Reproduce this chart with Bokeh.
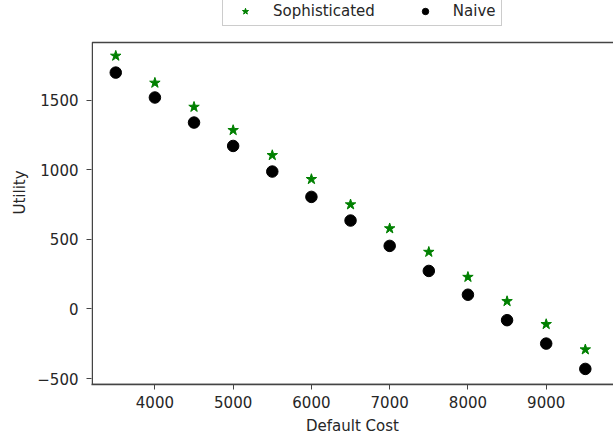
from bokeh.plotting import figure
from bokeh.models import Range1d, FixedTicker, Legend, LegendItem, BoxAnnotation
from bokeh.embed import file_html
from bokeh.resources import INLINE

# Default cost levels and the resulting utility for each agent type
default_cost = [3500, 4000, 4500, 5000, 5500, 6000, 6500, 7000, 7500, 8000, 8500, 9000, 9500]
sophisticated = [1818, 1624, 1451, 1284, 1104, 932, 750, 578, 409, 229, 55, -110, -292]
naive = [1698, 1519, 1339, 1171, 987, 805, 635, 453, 273, 102, -81, -249, -431]

x_ticks = [4000, 5000, 6000, 7000, 8000, 9000]
y_ticks = [-500, 0, 500, 1000, 1500]

FONT = "DejaVu Sans"
FS = "15px"
AXIS_COLOR = "#444444"

# Axes box limits; the frame reaches higher so the legend sits above the box
X_LO, X_HI = 3190, 9860
Y_LO, Y_HI = -543, 1914
Y_FRAME_TOP = 2216

p = figure(width=613, height=441, output_backend="svg", toolbar_location=None,
           x_range=Range1d(X_LO, X_HI), y_range=Range1d(Y_LO, Y_FRAME_TOP),
           min_border_left=91, min_border_right=0, min_border_top=0,
           min_border_bottom=57)
p.outline_line_color = None
p.background_fill_color = "white"
p.border_fill_color = "white"
p.xgrid.visible = False
p.ygrid.visible = False

# Spines: left, top and bottom, right side open
p.add_layout(BoxAnnotation(left=X_LO + 10, right=X_HI + 1000, bottom=Y_LO, top=Y_HI,
                           fill_alpha=0, line_color=AXIS_COLOR, line_alpha=1,
                           line_width=1.5))

r_soph = p.scatter(default_cost, sophisticated, marker="star", size=11,
                   color="green")
r_naive = p.scatter(default_cost, naive, marker="circle", size=11.5,
                    color="black")

for ax, ticks in ((p.xaxis[0], x_ticks), (p.yaxis[0], y_ticks)):
    ax.ticker = FixedTicker(ticks=ticks)
    ax.minor_tick_line_color = None
    ax.major_tick_in = 0
    ax.major_tick_out = 5
    ax.major_tick_line_color = AXIS_COLOR
    ax.axis_line_color = AXIS_COLOR
    ax.axis_line_width = 1.5
    ax.major_label_text_font = FONT
    ax.major_label_text_font_size = FS
    ax.major_label_text_color = "#262626"
    ax.axis_label_text_font = FONT
    ax.axis_label_text_font_size = FS
    ax.axis_label_text_font_style = "normal"
    ax.axis_label_text_color = "#262626"

p.yaxis.axis_line_color = None
p.xaxis.axis_label = "Default Cost"
p.yaxis.axis_label = "Utility"
p.xaxis.major_label_standoff = 6
p.xaxis.axis_label_standoff = 6
p.yaxis.major_label_standoff = 8
p.yaxis.axis_label_standoff = 5

legend = Legend(items=[LegendItem(label="Sophisticated", renderers=[r_soph]),
                       LegendItem(label="Naive", renderers=[r_naive])],
                orientation="horizontal", location=(131, 358),
                label_text_font=FONT, label_text_font_size=FS,
                label_text_color="#262626",
                glyph_width=34, glyph_height=16, label_height=16,
                label_standoff=11, spacing=33, padding=5, margin=0,
                border_line_color="#cccccc", border_line_alpha=1,
                border_line_width=1.2,
                background_fill_color="white", background_fill_alpha=1)
p.add_layout(legend, "center")

open("out.html", "w").write(file_html(p, INLINE))
